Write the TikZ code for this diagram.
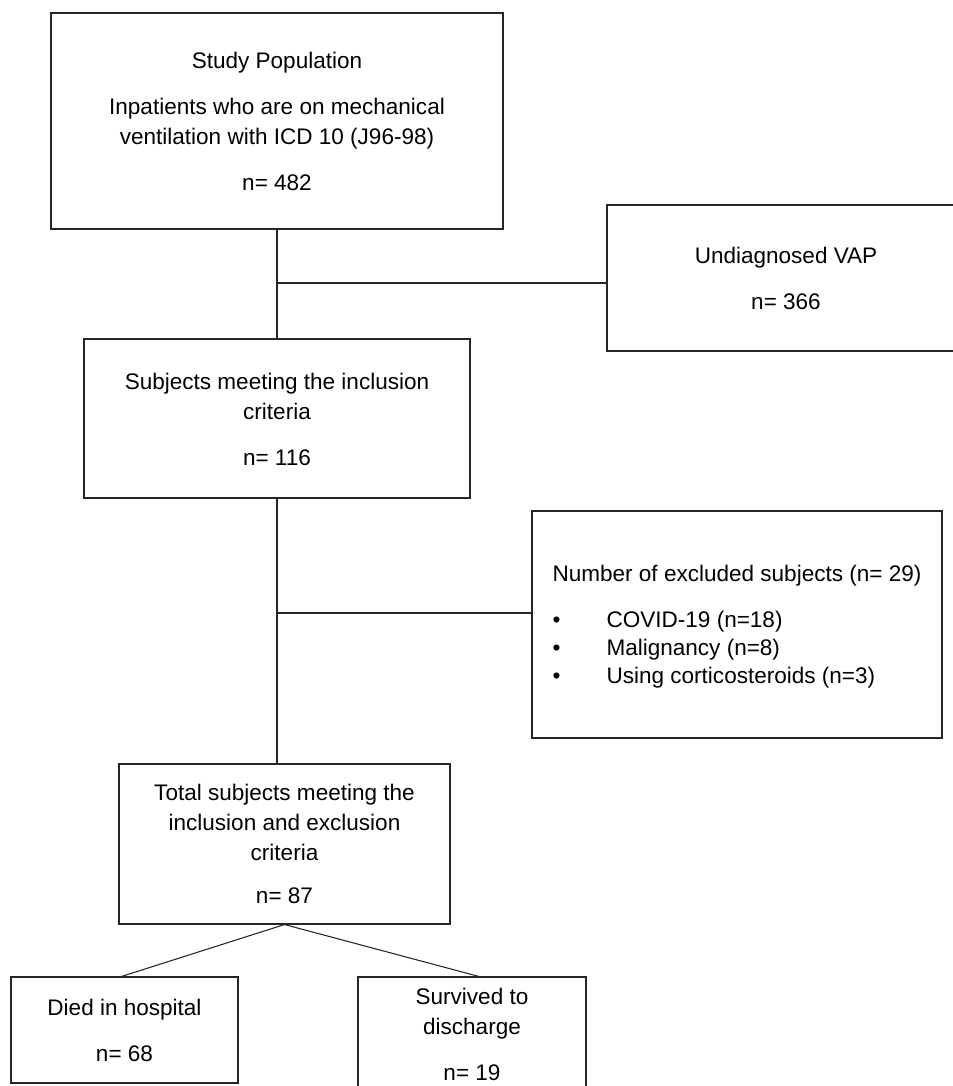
\documentclass[tikz,border=0pt]{standalone}
\usepackage{fontspec}
\setmainfont{Liberation Sans}
\usetikzlibrary{fit,calc}
\begin{document}
\begin{tikzpicture}[x=0.75pt,y=-0.75pt,
  box/.style={draw=black!85, line width=0.8pt, inner sep=0pt},
  txt/.style={inner sep=0pt, font=\fontsize{16.9}{22.5}\selectfont},
  link/.style={draw=black!85, line width=0.8pt}]
\useasboundingbox[fill=white] (0,0) rectangle (953,1086);
\clip (0,0) rectangle (953,1086);
\node[box, fit={(51,13)(503,229)}] (study) {};
\node[box, fit={(607,205)(965,351)}] (undiag) {};
\node[box, fit={(84,339)(470,498)}] (subj) {};
\node[box, fit={(532,511)(942,738)}] (excl) {};
\node[box, fit={(119,764)(450,924)}] (total) {};
\node[box, fit={(11,977)(238,1083)}] (died) {};
\node[box, fit={(358,977)(586,1093)}] (surv) {};
\node[txt, align=center] (studyt) at ($(study.center)+(0,0)$) {Study Population\\[12pt]Inpatients who are on mechanical\\ventilation with ICD 10 (J96-98)\\[12pt]n= 482};
\node[txt, align=center] (undiagt) at ($(undiag.center)+(0,0)$) {Undiagnosed VAP\\[12pt]n= 366};
\node[txt, align=center] (subjt) at ($(subj.center)+(0,1)$) {Subjects meeting the inclusion\\criteria\\[12pt]n= 116};
\node[txt, align=left] (exclt) at ($(excl.center)+(0,2)$) {Number of excluded subjects (n= 29)\\[12pt]\makebox[40.5pt][l]{•}COVID-19 (n=18)\\[-1.5pt]\makebox[40.5pt][l]{•}Malignancy (n=8)\\[-1.5pt]\makebox[40.5pt][l]{•}Using corticosteroids (n=3)};
\node[txt, align=center] (totalt) at ($(total.center)+(0,0)$) {Total subjects meeting the\\inclusion and exclusion\\criteria\\[10pt]n= 87};
\node[txt, align=center] (diedt) at ($(died.center)+(0,0)$) {Died in hospital\\[12pt]n= 68};
\node[txt, align=center] (survt) at ($(surv.center)+(0,-1)$) {Survived to\\discharge\\[12pt]n= 19};
\coordinate (h1) at (0,283);
\coordinate (h2) at (0,613);
\draw[link] (study.south) -- (subj.north);
\draw[link] (study.south |- h1) -- (undiag.west |- h1);
\draw[link] (subj.south) -- (subj.south |- total.north);
\draw[link] (subj.south |- h2) -- (excl.west |- h2);
\draw[link] (total.south) -- ($(died.north)+(-3,0)$);
\draw[link] (total.south) -- ($(surv.north)+(7,0)$);
\end{tikzpicture}
\end{document}
